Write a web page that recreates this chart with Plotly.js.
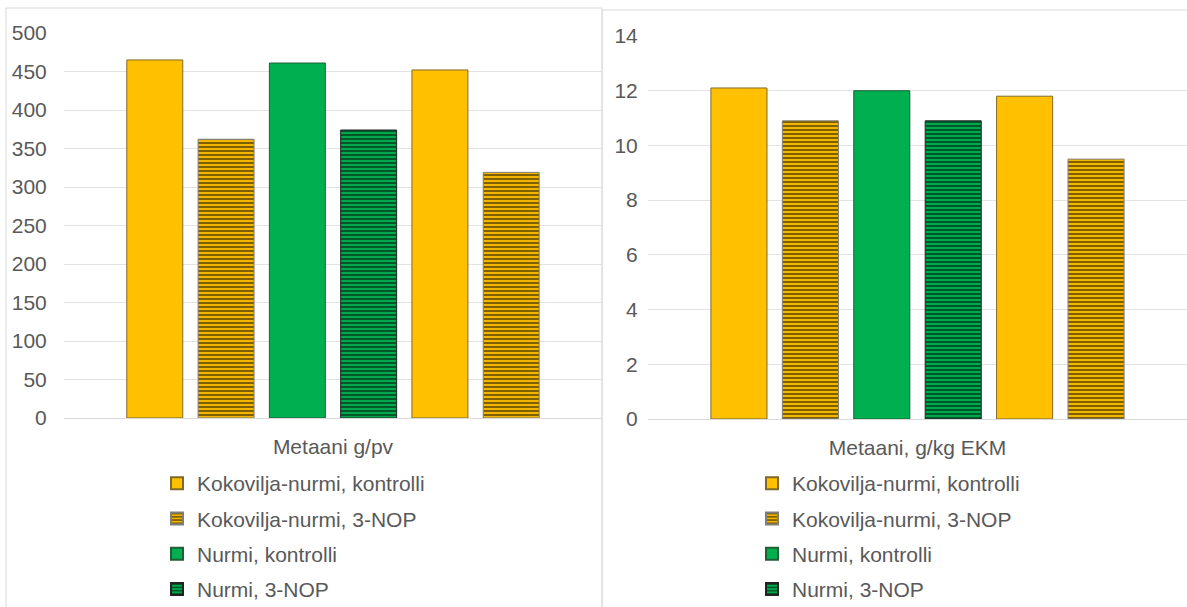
<!DOCTYPE html>
<html>
<head>
<meta charset="utf-8">
<script src="https://cdn.plot.ly/plotly-3.0.1.min.js"></script>
<style>html,body{margin:0;padding:0;background:#fff;}#chart{width:1187px;height:607px;}</style>
</head>
<body>
<div id="chart"></div>
<script>
// ---- data ----
const categoryLeft = ['Metaani g/pv'];
const categoryRight = ['Metaani, g/kg EKM'];
const seriesNames = [
  'Kokovilja-nurmi, kontrolli',
  'Kokovilja-nurmi, 3-NOP',
  'Nurmi, kontrolli',
  'Nurmi, 3-NOP',
  'Sarja 5',
  'Sarja 6'
];
const valuesGpv = [465, 362, 461, 374, 452, 319];
const valuesGkgEkm = [12.1, 10.9, 12.0, 10.9, 11.8, 9.5];
const yTicksLeft = [0, 50, 100, 150, 200, 250, 300, 350, 400, 450, 500];
const yTicksRight = [0, 2, 4, 6, 8, 10, 12, 14];

// ---- styles ----
const W = 1187, H = 607;
const YELLOW = '#FFC000', GREEN = '#00B050';
const styles = [
  {color: YELLOW, striped: false, line: '#7f6a2a'},
  {color: YELLOW, striped: true, line: '#7f7f7f'},
  {color: GREEN, striped: false, line: '#1f5f34'},
  {color: GREEN, striped: true, line: '#222222'},
  {color: YELLOW, striped: false, line: '#7f6a2a'},
  {color: YELLOW, striped: true, line: '#7f7f7f'}
];
const showInLegend = [true, true, true, true, false, false];

function marker(i) {
  const s = styles[i];
  const m = {color: s.color, line: {color: s.line, width: 1}};
  if (s.striped) {
    m.pattern = {shape: '-', fgcolor: '#000000', bgcolor: s.color, size: 4, solidity: 0.55, fillmode: 'overlay'};
  }
  return m;
}

const traces = [];
seriesNames.forEach((name, i) => {
  traces.push({
    type: 'bar', name: name, x: categoryLeft, y: [valuesGpv[i]],
    xaxis: 'x', yaxis: 'y', marker: marker(i),
    showlegend: showInLegend[i], legend: 'legend', legendgroup: 'l' + i
  });
});
seriesNames.forEach((name, i) => {
  traces.push({
    type: 'bar', name: name, x: categoryRight, y: [valuesGkgEkm[i]],
    xaxis: 'x2', yaxis: 'y2', marker: marker(i),
    showlegend: showInLegend[i], legend: 'legend2', legendgroup: 'r' + i
  });
});

const px = v => v / W;
const py = v => (H - v) / H;
const txt = '#595959';
const font = {family: 'Liberation Sans, Arial, sans-serif', size: 21, color: txt};

const layout = {
  width: W, height: H,
  margin: {l: 0, r: 0, t: 0, b: 0, autoexpand: false},
  paper_bgcolor: '#ffffff', plot_bgcolor: 'rgba(0,0,0,0)',
  font: font,
  barmode: 'group',
  bargap: 0.205, bargroupgap: 0.215,
  xaxis: {
    domain: [px(64), px(602)], anchor: 'y', type: 'category',
    showgrid: false, showline: true, linecolor: '#d9d9d9', linewidth: 1,
    ticks: 'outside', ticklen: 10, tickcolor: 'rgba(0,0,0,0)',
    tickfont: font, automargin: false, fixedrange: true
  },
  yaxis: {
    domain: [py(418), py(33)], anchor: 'x', range: [0, 500],
    tickvals: yTicksLeft, showgrid: true, gridcolor: '#e3e3e3', gridwidth: 1,
    zeroline: false, showline: false,
    ticks: 'outside', ticklen: 12, tickcolor: 'rgba(0,0,0,0)',
    tickfont: font, automargin: false, fixedrange: true
  },
  xaxis2: {
    domain: [px(648), px(1187)], anchor: 'y2', type: 'category',
    showgrid: false, showline: true, linecolor: '#d9d9d9', linewidth: 1,
    ticks: 'outside', ticklen: 10, tickcolor: 'rgba(0,0,0,0)',
    tickfont: font, automargin: false, fixedrange: true
  },
  yaxis2: {
    domain: [py(419), py(36)], anchor: 'x2', range: [0, 14],
    tickvals: yTicksRight, showgrid: true, gridcolor: '#e3e3e3', gridwidth: 1,
    zeroline: false, showline: false,
    ticks: 'outside', ticklen: 5, tickcolor: 'rgba(0,0,0,0)',
    tickfont: font, automargin: false, fixedrange: true
  },
  legend: {
    x: px(157), y: py(463), xanchor: 'left', yanchor: 'top',
    orientation: 'v', font: font, bgcolor: 'rgba(0,0,0,0)',
    tracegroupgap: 5, itemsizing: 'constant'
  },
  legend2: {
    x: px(752), y: py(463), xanchor: 'left', yanchor: 'top',
    orientation: 'v', font: font, bgcolor: 'rgba(0,0,0,0)',
    tracegroupgap: 5, itemsizing: 'constant'
  },
  shapes: [
    {type: 'rect', xref: 'paper', yref: 'paper', x0: px(6), x1: px(602), y0: -0.01, y1: py(8),
     line: {color: '#d9d9d9', width: 1}, fillcolor: 'rgba(0,0,0,0)', layer: 'below'},
    {type: 'rect', xref: 'paper', yref: 'paper', x0: px(602), x1: 1.01, y0: -0.01, y1: py(10),
     line: {color: '#d9d9d9', width: 1}, fillcolor: 'rgba(0,0,0,0)', layer: 'below'}
  ],
  showlegend: true
};

Plotly.newPlot('chart', traces, layout, {displayModeBar: false, staticPlot: true});
</script>
</body>
</html>
